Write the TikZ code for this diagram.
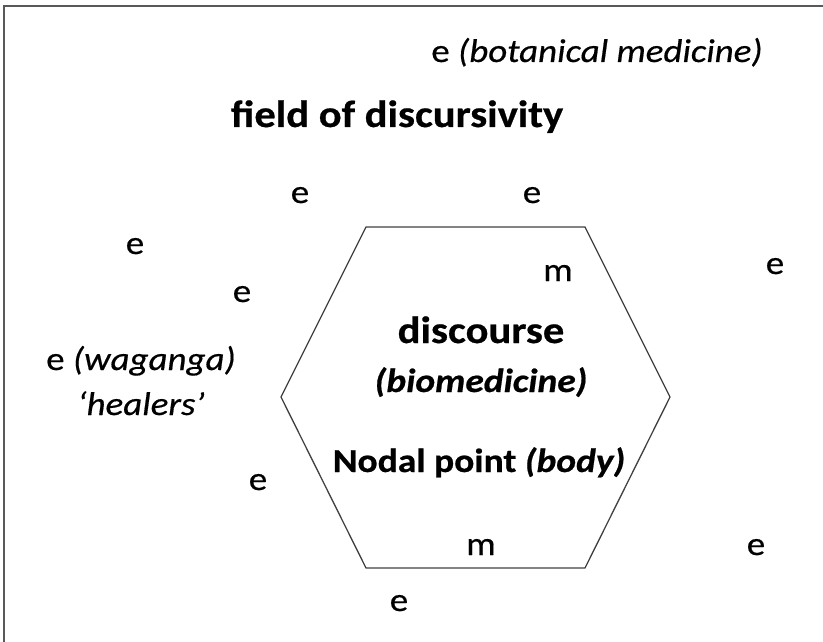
\documentclass[tikz,border=0pt]{standalone}
\usepackage{fontspec}
\setmainfont{Carlito}[FakeStretch=1.12,
  UprightFeatures={FakeBold=0.5}, ItalicFeatures={FakeBold=0.5},
  BoldFeatures={FakeBold=0.6}, BoldItalicFeatures={FakeBold=0.6}]
\usetikzlibrary{positioning}

\begin{document}
\begin{tikzpicture}[x=1pt,y=-1pt,
  elem/.style={font=\fontsize{33}{40}\selectfont, anchor=base, inner sep=0pt},
  head/.style={font=\fontsize{38}{46}\selectfont\bfseries, anchor=base, inner sep=0pt},
  core/.style={font=\fontsize{33.5}{40}\selectfont\bfseries, anchor=base, inner sep=0pt}]
\useasboundingbox (0,0) rectangle (823,642);
\clip (0,0) rectangle (823,642);
\draw[black!65, line width=1.5pt] (4,6) rectangle (840,660);

% the discourse hexagon
\draw[black!75, line width=1.3pt] (366,227) -- (585,227) -- (670,397) -- (585,568)
  -- (366,568) -- (281,397) -- cycle;

\node[elem] (botanical) at (597,62) {e \textit{(botanical medicine)}};
\node[head] (field) at (397,127) {field of discursivity};

% elements
\foreach \x/\y [count=\i] in {300/203, 532/203, 135/254, 242/302, 775/274, 258/490, 756/555, 399/611}
  \node[elem] (e\i) at (\x,\y) {e};
\node[elem] (m1) at (558,281) {m};
\node[elem] (m2) at (481,555) {m};

\node[elem] (waganga) at (141,370) {e \textit{(waganga)}};
\node[elem, below=45pt of waganga.base, anchor=base] (healers) {\textit{‘healers’}};

\node[head] (discourse) at (481,343) {discourse};
\node[core, below=49pt of discourse.base, anchor=base] (biomed) {\textit{(biomedicine)}};
\node[core] (nodal) at (479,472) {Nodal point \textit{(body)}};
\end{tikzpicture}
\end{document}
